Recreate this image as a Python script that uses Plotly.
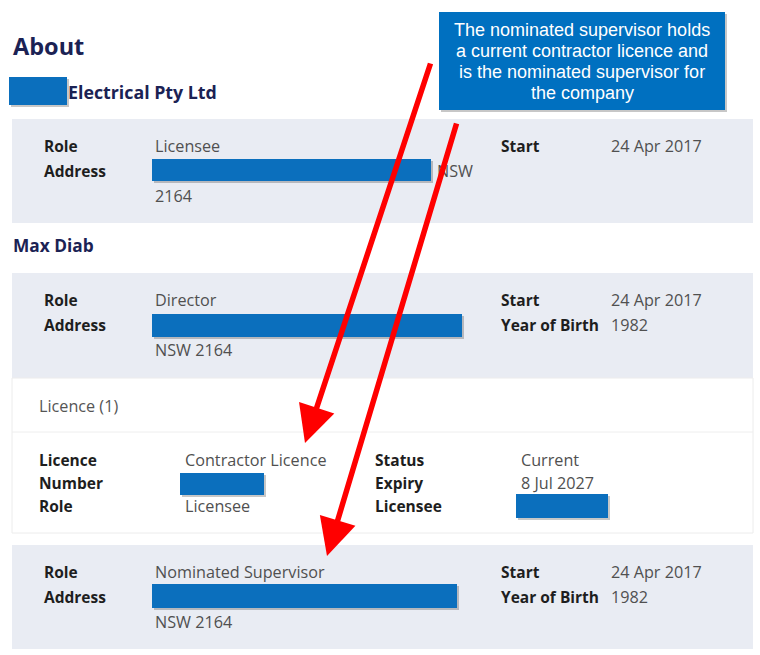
import plotly.graph_objects as go

W, H = 760, 655

# ---- content ----
page_title = "About"
company_name = "Electrical Pty Ltd"
person_name = "Max Diab"
callout_lines = ["The nominated supervisor holds", "a current contractor licence and",
                 "is the nominated supervisor for", "the company"]

company_labels = ["Role", "Address"]
company_values = ["Licensee", "NSW", "2164"]
company_right_labels = ["Start"]
company_right_values = ["24 Apr 2017"]

director_labels = ["Role", "Address"]
director_values = ["Director", "NSW 2164"]
director_right_labels = ["Start", "Year of Birth"]
director_right_values = ["24 Apr 2017", "1982"]

licence_header = "Licence (1)"
licence_labels = ["Licence", "Number", "Role"]
licence_values = ["Contractor Licence", "", "Licensee"]
licence_right_labels = ["Status", "Expiry", "Licensee"]
licence_right_values = ["Current", "8 Jul 2027", ""]

super_labels = ["Role", "Address"]
super_values = ["Nominated Supervisor", "NSW 2164"]
super_right_labels = ["Start", "Year of Birth"]
super_right_values = ["24 Apr 2017", "1982"]

# ---- styles ----
NAVY = "#1b2254"
LABEL = "#1e1e1e"
VALUE = "#505050"
PANEL = "#e9ecf3"
REDACT = "#0b6fbd"
RED = "#ff0000"
FONT = "Open Sans"
FS = 16.2
LS = 15.5

fig = go.Figure()
shapes = []
ann = []


def rect(x0, y0, x1, y1, color, line=None, shadow=False):
    if shadow:
        shapes.append(dict(type="rect", x0=x0 + 2, y0=y0 + 2, x1=x1 + 2, y1=y1 + 2,
                           fillcolor="rgba(0,0,0,0.22)", line=dict(width=0), layer="below"))
    shapes.append(dict(type="rect", x0=x0, y0=y0, x1=x1, y1=y1, fillcolor=color,
                       line=line or dict(width=0), layer="below"))


def text(x, y, s, size=FS, color=VALUE, bold=False, family=FONT, anchor="left"):
    if bold:
        s = "<b>" + s + "</b>"
    ann.append(dict(x=x, y=y, text=s, showarrow=False, xanchor=anchor, yanchor="middle",
                    font=dict(size=size, color=color, family=family), xref="x", yref="y"))


def label(x, y, s):
    text(x, y, s, size=LS, color=LABEL, bold=True)


# headings
text(11, 46, page_title, size=23.5, color=NAVY, bold=True)
rect(9, 77, 67, 105, REDACT, shadow=True)
text(66, 92, company_name, size=17.8, color=NAVY, bold=True)

# panel 1
rect(12, 119, 753, 223, PANEL)
label(42, 146, company_labels[0])
label(42, 171, company_labels[1])
text(153, 146, company_values[0])
rect(152, 159, 431, 181, REDACT, shadow=True)
text(435, 171, company_values[1])
text(153, 196, company_values[2])
label(499, 146, company_right_labels[0])
text(609, 146, company_right_values[0])

# name
text(11, 245, person_name, size=17.3, color=NAVY, bold=True)

# panel 2
rect(12, 273, 753, 378, PANEL)
label(42, 300, director_labels[0])
label(42, 325, director_labels[1])
text(153, 300, director_values[0])
rect(152, 314, 462, 337, REDACT, shadow=True)
text(153, 350, director_values[1])
for i, (l, v) in enumerate(zip(director_right_labels, director_right_values)):
    label(499, 300 + 25 * i, l)
    text(609, 300 + 25 * i, v)

# licence card
rect(12, 378, 753, 533, "white", line=dict(color="#ececec", width=1))
shapes.append(dict(type="line", x0=12, x1=753, y0=432, y1=432, line=dict(color="#eeeeee", width=1), layer="below"))
text(37, 406, licence_header, color="#555555")
for i in range(3):
    y = 460 + 23 * i
    label(37, y, licence_labels[i])
    if licence_values[i]:
        text(183, y, licence_values[i])
    label(373, y, licence_right_labels[i])
    if licence_right_values[i]:
        text(519, y, licence_right_values[i])
rect(180, 473, 264, 495, REDACT, shadow=True)
rect(516, 494, 608, 518, REDACT, shadow=True)

# panel 3
rect(12, 545, 753, 649, PANEL)
label(42, 572, super_labels[0])
label(42, 597, super_labels[1])
text(153, 572, super_values[0])
rect(152, 584, 457, 608, REDACT, shadow=True)
text(153, 622, super_values[1])
for i, (l, v) in enumerate(zip(super_right_labels, super_right_values)):
    label(499, 572 + 25 * i, l)
    text(609, 572 + 25 * i, v)

# callout
rect(439, 12, 725, 110, "#0070c0", shadow=True)
for i, s in enumerate(callout_lines):
    text(582, 30 + 21 * i, s, size=18, color="white", family="Liberation Sans", anchor="center")

# red arrows
arrows = [((431, 62), (305, 443)), ((457, 122), (327, 556))]
for (x0, y0), (x1, y1) in arrows:
    ann.append(dict(x=x1, y=y1, ax=x0, ay=y0, xref="x", yref="y", axref="x", ayref="y",
                    showarrow=True, arrowhead=2, arrowsize=1.35, arrowwidth=5.5,
                    arrowcolor=RED, text=""))

fig.update_layout(
    width=W, height=H, margin=dict(l=0, r=0, t=0, b=0),
    paper_bgcolor="white", plot_bgcolor="white",
    xaxis=dict(range=[0, W], visible=False, fixedrange=True),
    yaxis=dict(range=[H, 0], visible=False, fixedrange=True),
    shapes=shapes, annotations=ann, showlegend=False,
)
fig.write_html("out.html", config={"displayModeBar": False},
               post_script="document.body.style.margin='0';document.body.style.overflow='hidden';")
